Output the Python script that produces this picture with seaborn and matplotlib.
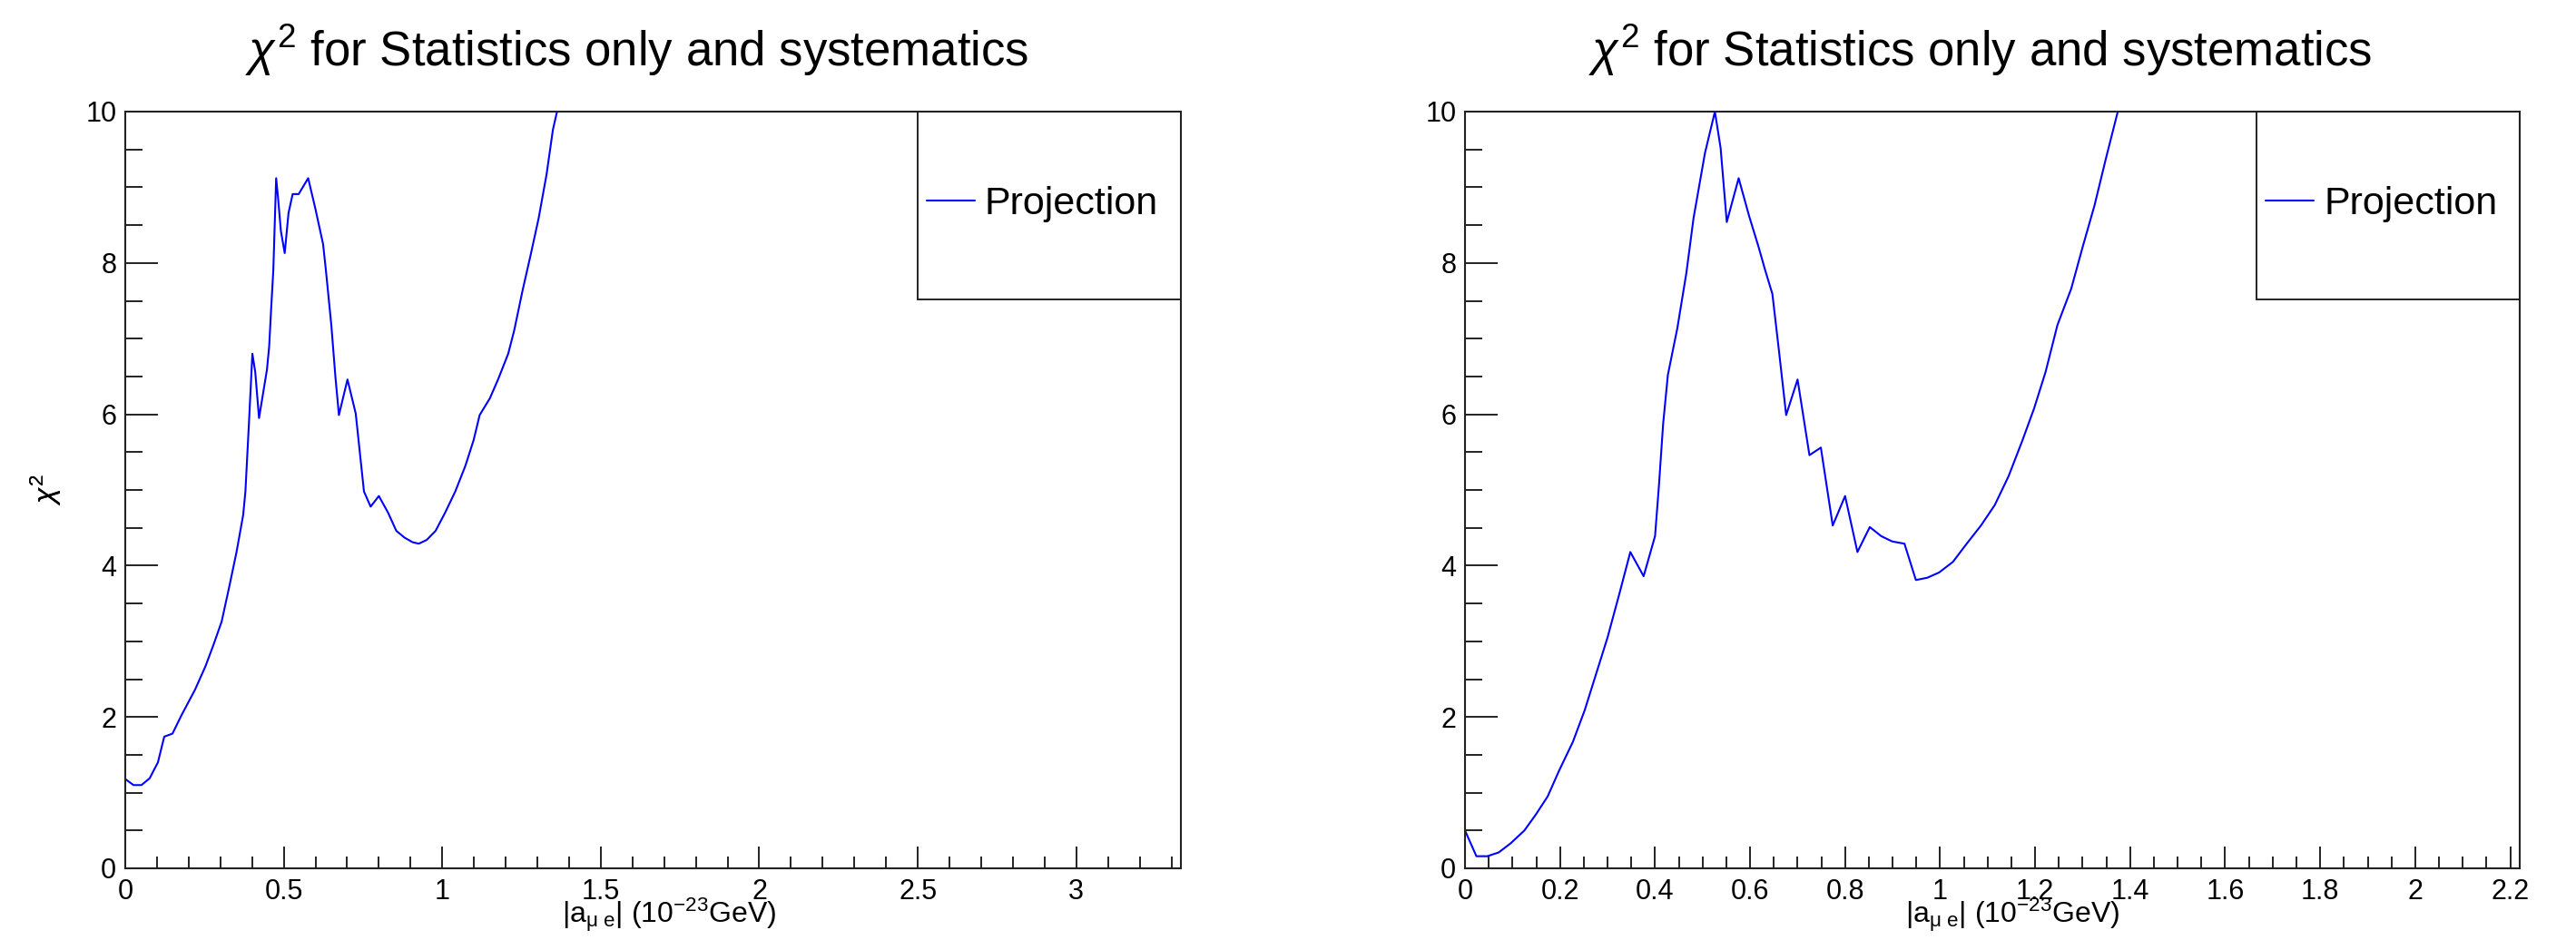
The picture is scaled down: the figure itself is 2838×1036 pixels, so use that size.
import matplotlib
matplotlib.use("Agg")
import matplotlib.pyplot as plt
import seaborn as sns
from matplotlib.patches import Rectangle
from matplotlib.ticker import MultipleLocator

# ─────────────────────────────
# Data
# ─────────────────────────────
left_x = [0.0, 0.026, 0.051, 0.077, 0.103, 0.123, 0.149, 0.177, 0.22, 0.253,
          0.278, 0.304, 0.329, 0.351, 0.372, 0.379, 0.39, 0.401, 0.41, 0.422,
          0.447, 0.454, 0.46, 0.467, 0.476, 0.482, 0.491, 0.503, 0.515, 0.528,
          0.547, 0.577, 0.599, 0.624, 0.633, 0.65, 0.663, 0.674, 0.701, 0.727,
          0.753, 0.774, 0.80, 0.829, 0.855, 0.881, 0.906, 0.926, 0.951, 0.979,
          1.009, 1.041, 1.073, 1.099, 1.118, 1.15, 1.176, 1.208, 1.227, 1.253,
          1.279, 1.304, 1.329, 1.349, 1.362]
left_chi2 = [1.18, 1.10, 1.10, 1.19, 1.40, 1.74, 1.78, 2.02, 2.36, 2.67,
             2.95, 3.26, 3.74, 4.18, 4.67, 4.98, 5.87, 6.80, 6.56, 5.95,
             6.59, 6.90, 7.38, 7.90, 9.12, 8.86, 8.42, 8.13, 8.66, 8.91,
             8.91, 9.12, 8.73, 8.25, 7.90, 7.18, 6.49, 5.99, 6.46, 6.01,
             4.98, 4.78, 4.92, 4.70, 4.46, 4.37, 4.31, 4.29, 4.34, 4.46,
             4.70, 4.98, 5.32, 5.66, 5.99, 6.21, 6.46, 6.80, 7.11, 7.63,
             8.11, 8.59, 9.17, 9.76, 10.0]

right_x = [0.0, 0.024, 0.047, 0.071, 0.096, 0.125, 0.149, 0.174, 0.198, 0.227,
           0.252, 0.276, 0.30, 0.325, 0.348, 0.376, 0.40, 0.408, 0.417, 0.427,
           0.447, 0.466, 0.481, 0.505, 0.526, 0.538, 0.551, 0.576, 0.598, 0.618,
           0.632, 0.647, 0.661, 0.676, 0.70, 0.725, 0.749, 0.774, 0.80, 0.826,
           0.852, 0.876, 0.899, 0.925, 0.949, 0.973, 0.998, 1.027, 1.056, 1.086,
           1.115, 1.144, 1.173, 1.198, 1.222, 1.247, 1.276, 1.30, 1.325, 1.349,
           1.374]
right_chi2 = [0.50, 0.16, 0.16, 0.21, 0.33, 0.50, 0.71, 0.95, 1.29, 1.67,
              2.09, 2.57, 3.05, 3.63, 4.18, 3.86, 4.39, 5.04, 5.87, 6.52,
              7.14, 7.87, 8.59, 9.45, 10.0, 9.52, 8.54, 9.12, 8.62, 8.21,
              7.90, 7.59, 6.83, 5.99, 6.46, 5.46, 5.56, 4.53, 4.92, 4.18,
              4.51, 4.39, 4.32, 4.29, 3.81, 3.84, 3.91, 4.05, 4.29, 4.53,
              4.80, 5.18, 5.65, 6.08, 6.56, 7.18, 7.66, 8.21, 8.76, 9.38,
              10.0]

left_xmax = 3.33
right_xmax = 2.22
left_xmajor, left_xminor = 0.5, 0.1
right_xmajor, right_xminor = 0.2, 0.05

TITLE = r"$\mathit{\chi}^{2}$ for Statistics only and systematics"
XLABEL = r"$|a_{\mu\ e}|$ (10$^{-23}$GeV)"
YLABEL = r"$\mathit{\chi}^{2}$"
LEGEND_LABEL = "Projection"

# ─────────────────────────────
# Style
# ─────────────────────────────
sns.set_style("white")
plt.rcParams["font.family"] = ["Liberation Sans", "DejaVu Sans"]
plt.rcParams["mathtext.fontset"] = "custom"
plt.rcParams["mathtext.rm"] = "Liberation Sans"
plt.rcParams["mathtext.it"] = "Liberation Sans:italic"
plt.rcParams["mathtext.default"] = "regular"
plt.rcParams["text.color"] = "black"
plt.rcParams["axes.labelcolor"] = "black"
plt.rcParams["xtick.color"] = "black"
plt.rcParams["ytick.color"] = "black"

W, H = 2838, 1036
fig = plt.figure(figsize=(W / 100, H / 100), dpi=100)

# axes boxes in pixels: left, right, top, bottom
panels = [
    (138, 1301, left_x, left_chi2, left_xmax, left_xmajor, left_xminor, 702),
    (1614, 2776, right_x, right_chi2, right_xmax, right_xmajor, right_xminor, 2182),
]
top_px, bottom_px = 123, 957
frame_col = "#222222"

for x0, x1, xs, ys, xmax, xmaj, xmin, title_cx in panels:
    ax = fig.add_axes([x0 / W, 1 - bottom_px / H, (x1 - x0) / W,
                       (bottom_px - top_px) / H])
    sns.lineplot(x=xs, y=ys, ax=ax, color="#0000ff", linewidth=1.5,
                 sort=False, label=LEGEND_LABEL, legend=False)
    ax.set_xlim(0, xmax)
    ax.set_ylim(0, 10)

    ax.xaxis.set_major_locator(MultipleLocator(xmaj))
    ax.xaxis.set_minor_locator(MultipleLocator(xmin))
    ax.yaxis.set_major_locator(MultipleLocator(2))
    ax.yaxis.set_minor_locator(MultipleLocator(0.5))
    ax.xaxis.set_major_formatter(plt.FuncFormatter(lambda v, p: f"{v:g}"))
    ax.yaxis.set_major_formatter(plt.FuncFormatter(lambda v, p: f"{v:g}"))

    ax.tick_params(which="both", direction="in", bottom=True, left=True,
                   top=False, right=False, width=1.4, color=frame_col,
                   labelsize=22, labelcolor="black")
    ax.tick_params(axis="y", which="major", length=26, pad=7)
    ax.tick_params(axis="y", which="minor", length=13.7)
    ax.tick_params(axis="x", which="major", length=17.3, pad=8)
    ax.tick_params(axis="x", which="minor", length=9.6)
    for sp in ax.spines.values():
        sp.set_visible(True)
        sp.set_linewidth(1.5)
        sp.set_color(frame_col)

    axw, axh = x1 - x0, bottom_px - top_px
    ax.set_xlabel(XLABEL, fontsize=23, va="baseline")
    ax.xaxis.set_label_coords((title_cx + 35 - x0) / axw, (bottom_px - 1017) / axh)
    ax.set_ylabel(YLABEL, fontsize=23, va="center")
    ax.yaxis.set_label_coords((51 - x0) / axw, 0.5)
    ax.set_title(TITLE, fontsize=38, x=(title_cx - x0) / axw,
                 y=(bottom_px - 73) / axh, pad=0, va="baseline")

    # legend box in the top-right corner
    ax.add_patch(Rectangle((0.7505, 0.7518), 0.2495, 0.2482, transform=ax.transAxes,
                           fill=False, lw=1.4, ec=frame_col, clip_on=False, zorder=5))
    ax.legend(loc="center left", bbox_to_anchor=(0.7505 + 10 / axw, 0.878),
              frameon=False, fontsize=31, borderpad=0, borderaxespad=0,
              handlelength=1.23, handletextpad=0.26)

fig.savefig("out.png", dpi=100)
